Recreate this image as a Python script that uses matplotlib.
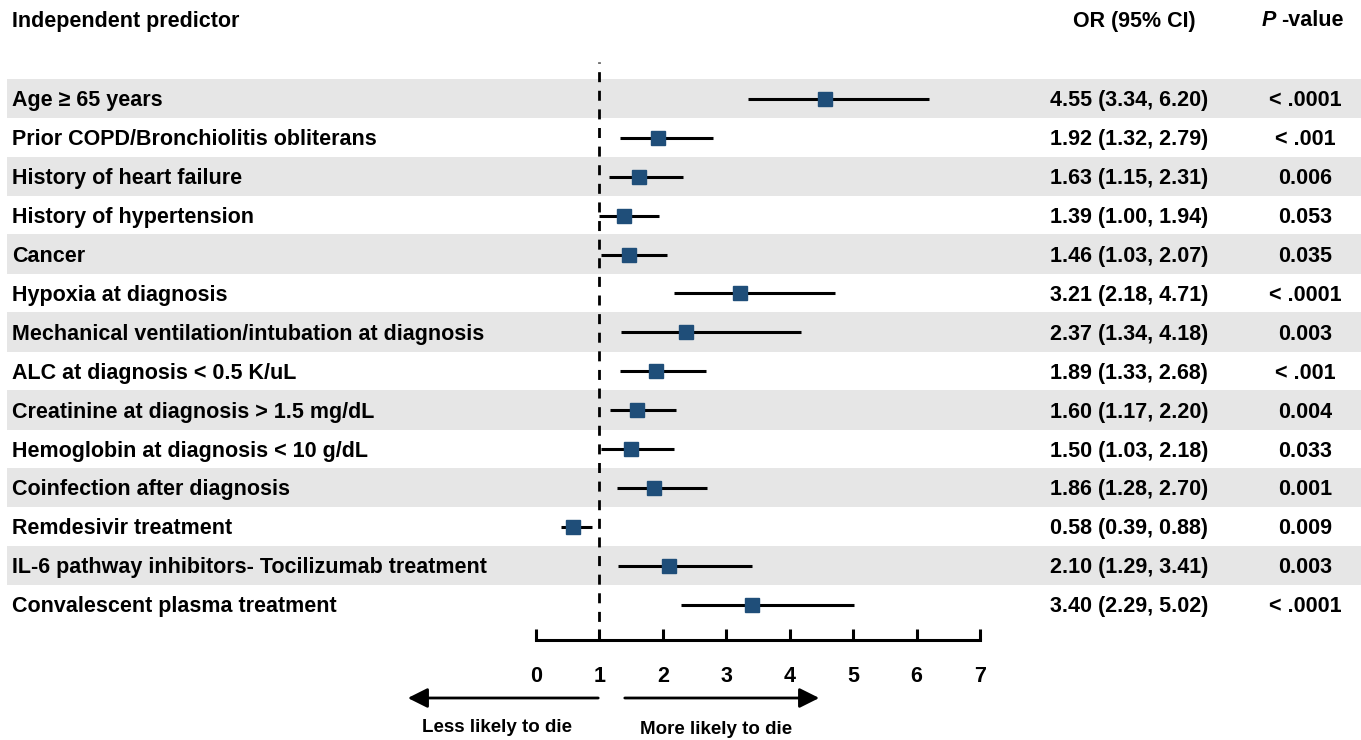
import matplotlib.pyplot as plt
import matplotlib.transforms as mtransforms
from matplotlib.patches import Rectangle, FancyArrowPatch
import numpy as np

plt.rcParams['font.family'] = ['Liberation Sans', 'DejaVu Sans']
plt.rcParams['font.weight'] = 'bold'

predictors = [
    "Age \u2265 65 years",
    "Prior COPD/Bronchiolitis obliterans",
    "History of heart failure",
    "History of hypertension",
    "Cancer",
    "Hypoxia at diagnosis",
    "Mechanical ventilation/intubation at diagnosis",
    "ALC at diagnosis < 0.5 K/uL",
    "Creatinine at diagnosis > 1.5 mg/dL",
    "Hemoglobin at diagnosis < 10 g/dL",
    "Coinfection after diagnosis",
    "Remdesivir treatment",
    "IL-6 pathway inhibitors- Tocilizumab treatment",
    "Convalescent plasma treatment",
]
odds = [4.55, 1.92, 1.63, 1.39, 1.46, 3.21, 2.37, 1.89, 1.60, 1.50, 1.86, 0.58, 2.10, 3.40]
ci_low = [3.34, 1.32, 1.15, 1.00, 1.03, 2.18, 1.34, 1.33, 1.17, 1.03, 1.28, 0.39, 1.29, 2.29]
ci_high = [6.20, 2.79, 2.31, 1.94, 2.07, 4.71, 4.18, 2.68, 2.20, 2.18, 2.70, 0.88, 3.41, 5.02]
pvalues = ["< .0001", "< .001", "0.006", "0.053", "0.035", "< .0001", "0.003",
           "< .001", "0.004", "0.033", "0.001", "0.009", "0.003", "< .0001"]
xticks = [0, 1, 2, 3, 4, 5, 6, 7]

W, H = 1361, 740
fig = plt.figure(figsize=(W / 100, H / 100), dpi=100)

# forest axes placed by pixel
x0, x1 = 536, 980
ytop, ybot = 62, 640
ax = fig.add_axes([x0 / W, 1 - ybot / H, (x1 - x0) / W, (ybot - ytop) / H])
row0, step = 99, 38.9
ax.set_ylim((ybot - row0) / step, (ytop - row0) / step)
ax.set_xlim(0, 7)

fs = 15.5
blend = mtransforms.blended_transform_factory(fig.transFigure, ax.transData)
n = len(predictors)
y = np.arange(n)

# grey bands
for i in range(0, n, 2):
    ax.add_patch(Rectangle((7 / W, i - 0.52), 1, 1.02, transform=blend,
                           facecolor="#e6e6e6", edgecolor="none", clip_on=False, zorder=0))

ax.axvline(1, color="black", ls=(0, (3.6, 3.1)), lw=2, zorder=1)
ax.hlines(y, ci_low, ci_high, color="black", lw=2.2, zorder=2)
ax.plot(odds, y, "s", color="#1f4e79", markersize=10.5, zorder=3)

for i in range(n):
    ax.text(12 / W, i + 0.05, predictors[i], transform=blend, ha="left", va="center",
            fontsize=fs, fontweight="bold")
    ax.text(1129 / W, i + 0.05, f"{odds[i]:.2f} ({ci_low[i]:.2f}, {ci_high[i]:.2f})",
            transform=blend, ha="center", va="center", fontsize=fs, fontweight="bold")
    ax.text(1305 / W, i + 0.05, pvalues[i], transform=blend, ha="center", va="center",
            fontsize=fs, fontweight="bold")

# headers
hy = 1 - 21 / H
fig.text(12 / W, hy, "Independent predictor", ha="left", va="center", fontsize=fs, fontweight="bold")
fig.text(1134 / W, hy, "OR (95% CI)", ha="center", va="center", fontsize=fs, fontweight="bold")
fig.text(1276 / W, hy, "P", ha="right", va="center", fontsize=fs, style="italic", fontweight="bold")
fig.text(1281 / W, hy, "-value", ha="left", va="center", fontsize=fs, fontweight="bold")

for s in ["top", "right", "left"]:
    ax.spines[s].set_visible(False)
ax.spines["bottom"].set_linewidth(2.2)
ax.set_yticks([])
ax.set_xticks(xticks)
ax.tick_params(axis="x", direction="in", length=8, width=2.2, labelsize=fs, pad=19)
for lab in ax.get_xticklabels():
    lab.set_fontweight("bold")

# direction arrows
ya = 1 - 698 / H
for xs, xe in [(601, 405), (622, 822)]:
    fig.add_artist(FancyArrowPatch((xs / W, ya), (xe / W, ya), transform=fig.transFigure,
                                   arrowstyle="-|>,head_length=12,head_width=6",
                                   lw=2, color="black", mutation_scale=1))
fig.text(497 / W, 1 - 727 / H, "Less likely to die", ha="center", va="center",
         fontsize=13.5, fontweight="bold")
fig.text(716 / W, 1 - 729 / H, "More likely to die", ha="center", va="center",
         fontsize=13.5, fontweight="bold")

fig.savefig("out.png", dpi=100)
